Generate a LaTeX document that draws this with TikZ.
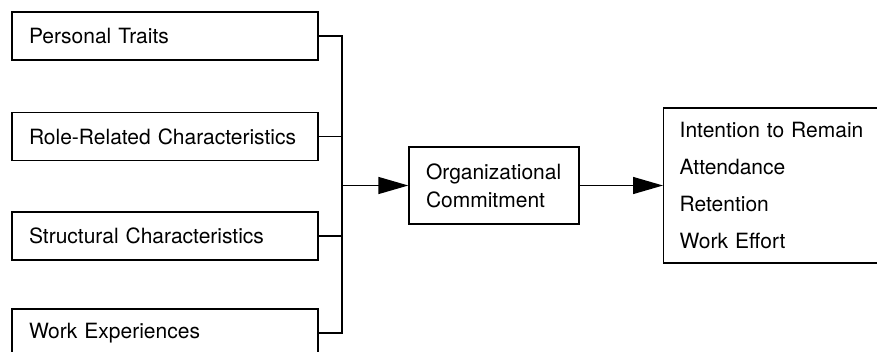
\documentclass[tikz,border=0pt]{standalone}
\usepackage{fontspec}
\setmainfont{TeX Gyre Heros}
\usetikzlibrary{arrows.meta}
\begin{document}
\begin{tikzpicture}[x=1pt,y=-1pt,line width=1.4pt,
    factor/.style={draw,inner xsep=17pt,text width=272pt,minimum height=48pt,align=left,font=\fontsize{21}{28}\selectfont},
    commit/.style={draw,inner xsep=17pt,text width=136pt,minimum height=77pt,align=left,font=\fontsize{21}{28}\selectfont},
    outcome/.style={draw,anchor=west,inner xsep=16pt,text width=220pt,minimum height=155pt,align=left,font=\fontsize{21}{37}\selectfont},
    push/.style={-{Triangle[length=30pt,width=17pt]}}]
      \useasboundingbox (0,0) rectangle (877,351);
      \clip (0,0) rectangle (877,351);
      \draw
        (165,36) node[factor] (traits){Personal Traits}
        (165,136.5) node[factor] (role){Role-Related Characteristics}
        (165,236) node[factor] (struct){Structural Characteristics}
        (165,333) node[factor] (work){Work Experiences}
        (494,185.5) node[commit] (org){Organizational\\Commitment}
        (663,185.5) node[outcome] (result){Intention to Remain\\Attendance\\Retention\\Work Effort};
      \coordinate (bus) at (342,185.5);
      \begin{scope}[-]
        \draw (traits) -| (bus);
        \draw (role) -| (bus);
        \draw (struct) -| (bus);
        \draw (work) -| (bus);
        \draw[push] (bus) to (org);
        \draw[push] (org) to (result);
      \end{scope}
    \end{tikzpicture}
\end{document}
